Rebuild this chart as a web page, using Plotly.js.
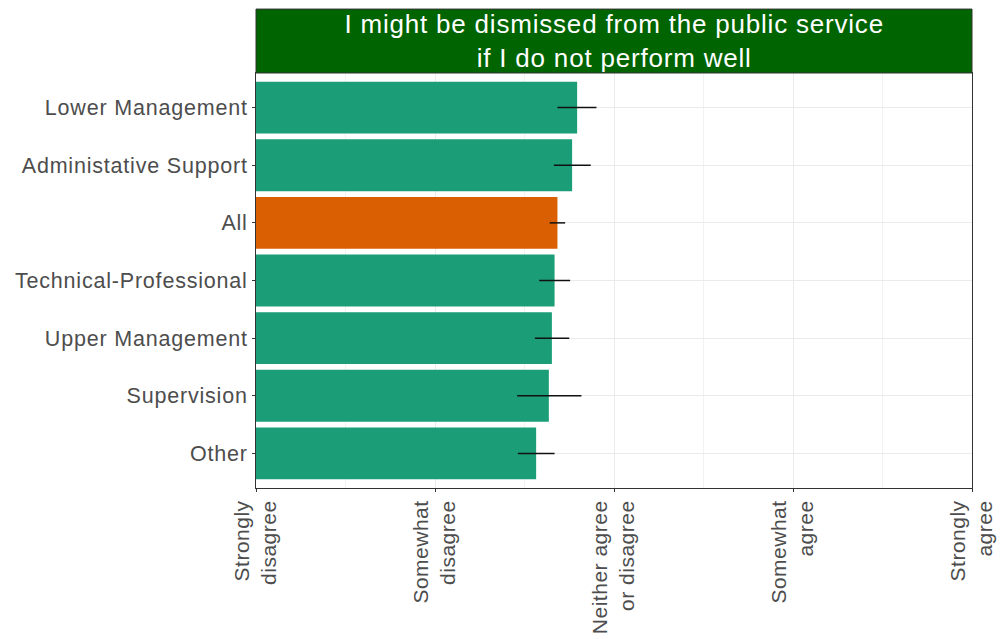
<!DOCTYPE html>
<html>
<head>
<meta charset="utf-8">
<script src="https://cdn.plot.ly/plotly-3.0.1.min.js"></script>
<style>
html,body{margin:0;padding:0;background:#fff;}
#chart{width:1002px;height:639px;}
#chart text{letter-spacing:0.8px;}
#chart .xtick text{letter-spacing:0.5px;}
</style>
</head>
<body>
<div id="chart"></div>
<script>
var categories = ["Lower Management","Administative Support","All","Technical-Professional","Upper Management","Supervision","Other"];
var means = [2.794, 2.766, 2.684, 2.668, 2.653, 2.636, 2.565];
var lower = [2.684, 2.664, 2.641, 2.582, 2.558, 2.459, 2.463];
var upper = [2.902, 2.870, 2.727, 2.755, 2.750, 2.818, 2.668];
var tickVals = [1, 2, 3, 4, 5];
var tickText = ["Strongly<br>disagree","Somewhat<br>disagree","Neither agree<br>or disagree","Somewhat<br>agree","Strongly<br>agree"];
var panelTitle = "I might be dismissed from the public service<br>if I do not perform well";

var colors = categories.map(function(c){ return c === "All" ? "#d95f02" : "#1b9e77"; });
var errPlus = upper.map(function(u,i){ return u - means[i]; });
var errMinus = lower.map(function(l,i){ return means[i] - l; });

var trace = {
  type: "bar",
  orientation: "h",
  y: categories,
  x: means,
  width: 0.9,
  marker: {color: colors, line: {width: 0}},
  error_x: {type: "data", symmetric: false, array: errPlus, arrayminus: errMinus,
            color: "#111", thickness: 1.5, width: 0},
  hoverinfo: "x+y"
};

var stripH = 64 / 415.5;
var layout = {
  width: 1002, height: 639,
  margin: {l: 255.5, r: 30.4, t: 73, b: 150.5},
  paper_bgcolor: "#fff", plot_bgcolor: "#fff",
  showlegend: false,
  font: {family: "Liberation Sans, Arial, sans-serif", color: "#4d4d4d"},
  xaxis: {
    range: [1, 5], tickmode: "array", tickvals: tickVals, ticktext: tickText,
    tickangle: -90, tickfont: {size: 21, color: "#4d4d4d"},
    showgrid: true, gridcolor: "#ebebeb", gridwidth: 1,
    minor: {tickvals: [1.5, 2.5, 3.5, 4.5], showgrid: true, gridcolor: "#f2f2f2", gridwidth: 1, ticklen: 0},
    ticks: "outside", ticklen: 3, tickcolor: "#333",
    showline: true, mirror: true, linecolor: "#333", linewidth: 1,
    zeroline: false, fixedrange: true
  },
  yaxis: {
    type: "category", categoryorder: "array", categoryarray: categories,
    range: [6.6, -0.6],
    tickfont: {size: 21.5, color: "#4d4d4d"},
    showgrid: true, gridcolor: "#ebebeb", gridwidth: 1,
    ticks: "outside", ticklen: 3, tickcolor: "#333",
    showline: true, mirror: true, linecolor: "#333", linewidth: 1,
    zeroline: false, fixedrange: true
  },
  shapes: [{
    type: "rect", xref: "paper", yref: "paper", x0: 0, x1: 1, y0: 1, y1: 1 + stripH,
    fillcolor: "#006400", line: {color: "#333", width: 1}, layer: "above"
  }],
  annotations: [{
    xref: "paper", yref: "paper", x: 0.5, y: 1 + stripH / 2, xanchor: "center", yanchor: "middle",
    text: panelTitle, showarrow: false,
    font: {size: 26, color: "#ffffff", family: "Liberation Sans, Arial, sans-serif"}
  }]
};

Plotly.newPlot("chart", [trace], layout, {displayModeBar: false, staticPlot: true});
</script>
</body>
</html>
